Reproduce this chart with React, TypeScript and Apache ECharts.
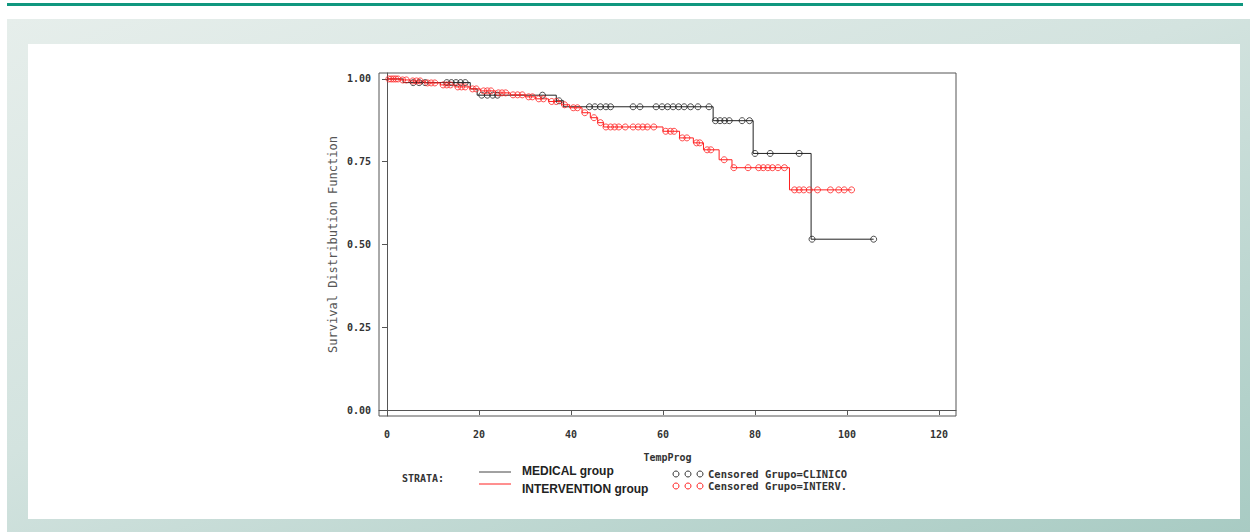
import React, { useEffect, useRef } from "react";
import * as echarts from "echarts";

// Axis tick values
const xTicks = [0, 20, 40, 60, 80, 100, 120];
const yTicks = [0, 0.25, 0.5, 0.75, 1];

// MEDICAL group (Grupo=CLINICO): event times and survival after each event
const medicalTimes = [0, 3.5, 18.1, 19.6, 36.8, 38.4, 70.9, 79.6, 92.2, 105.8];
const medicalSurv = [1, 0.989, 0.97, 0.951, 0.934, 0.916, 0.874, 0.775, 0.516, 0.516];
const medicalCensored = [
  5.7, 7, 8.3, 13, 14, 15, 16, 17, 20.6, 21.8, 23, 24, 33.8, 37.4, 44, 45.2, 46.4,
  47.6, 48.6, 53.5, 55, 58.5, 59.8, 61, 62.2, 63.4, 64.6, 66, 67.6, 70, 71.4, 72.4,
  73.4, 74.4, 77.2, 78.8, 80, 83.3, 89.6, 92.4, 105.8,
];

// INTERVENTION group (Grupo=INTERV.)
const interventionTimes = [
  0, 2.8, 5.0, 8.3, 11.6, 14.8, 18.1, 20.3, 23.6, 26.8, 30.1, 32.3, 35.1, 37.9, 39.7,
  42.4, 44.2, 45.8, 47.1, 60, 63.6, 66.6, 68.8, 72.2, 75, 87.5, 101,
];
const interventionSurv = [
  1, 0.997, 0.994, 0.988, 0.982, 0.976, 0.97, 0.964, 0.958, 0.952, 0.946, 0.94, 0.932,
  0.922, 0.913, 0.898, 0.883, 0.868, 0.855, 0.842, 0.822, 0.807, 0.786, 0.756, 0.732,
  0.665, 0.665,
];
const interventionCensored = [
  0.4, 0.9, 1.4, 1.9, 2.4, 3.4, 4.2, 5.6, 6.4, 7.2, 8.8, 9.6, 10.4, 12.2, 13, 13.8,
  15.4, 16.2, 17, 18.6, 19.4, 21, 21.8, 22.6, 24.2, 25, 25.8, 27.4, 28.4, 29.4, 30.8,
  31.6, 33, 34, 35.8, 36.8, 38.6, 40.5, 41.4, 43, 45, 46.4, 47.6, 48.6, 49.5, 50.4,
  51.8, 53.5, 54.6, 55.6, 56.6, 58, 60.6, 61.6, 62.4, 64.2, 65.2, 67.3, 68, 69.6, 70.4,
  73.3, 75.4, 78.5, 80.8, 81.8, 82.8, 83.8, 85, 86.4, 88.6, 89.6, 90.6, 91.8, 93.6,
  96.4, 98.2, 99.4, 101,
];

const BLACK = "#222222";
const RED = "#ff2020";
const MONO = "'DejaVu Sans Mono', 'Liberation Mono', monospace";

function survAt(times: number[], surv: number[], t: number): number {
  let v = surv[0];
  for (let i = 0; i < times.length; i++) {
    if (times[i] <= t) v = surv[i];
  }
  return v;
}

export default function App() {
  const ref = useRef<HTMLDivElement>(null);

  useEffect(() => {
    if (!ref.current) return;
    const chart = echarts.init(ref.current, null, { renderer: "svg" });

    const lineData = (times: number[], surv: number[]) =>
      times.map((t, i) => [t, surv[i]]);
    const censData = (c: number[], times: number[], surv: number[]) =>
      c.map((t) => [t, survAt(times, surv, t)]);

    const legendY1 = 474;
    const legendY2 = 486;

    chart.setOption({
      animation: false,
      grid: {
        left: 379,
        top: 73,
        width: 577,
        height: 343,
        show: true,
        borderColor: "#555",
        borderWidth: 1,
        backgroundColor: "transparent",
      },
      xAxis: {
        type: "value",
        min: -1.74,
        max: 123.7,
        splitLine: { show: false },
        axisLine: { show: true, lineStyle: { color: "#555", width: 1 } },
        axisTick: {
          show: true,
          customValues: xTicks,
          length: 5,
          lineStyle: { color: "#555" },
        },
        axisLabel: {
          customValues: xTicks,
          margin: 13,
          fontFamily: MONO,
          fontWeight: "bold",
          fontSize: 10,
          color: "#333",
          formatter: (v: number) => String(v),
        },
        name: "TempProg",
        nameLocation: "middle",
        nameGap: 36,
        nameTextStyle: {
          fontFamily: MONO,
          fontWeight: "bold",
          fontSize: 10,
          color: "#333",
        },
      },
      yAxis: {
        type: "value",
        min: -0.018,
        max: 1.018,
        splitLine: { show: false },
        axisLine: { show: true, lineStyle: { color: "#555", width: 1 } },
        axisTick: {
          show: true,
          customValues: yTicks,
          length: 5,
          lineStyle: { color: "#555" },
        },
        axisLabel: {
          customValues: yTicks,
          margin: 8,
          fontFamily: MONO,
          fontWeight: "bold",
          fontSize: 10,
          color: "#333",
          formatter: (v: number) => v.toFixed(2),
        },
        name: "Survival Distribution Function",
        nameLocation: "middle",
        nameGap: 40,
        nameTextStyle: {
          fontFamily: MONO,
          fontSize: 12,
          color: "#555",
        },
      },
      series: [
        {
          name: "MEDICAL group",
          type: "line",
          step: "end",
          data: lineData(medicalTimes, medicalSurv),
          symbol: "none",
          lineStyle: { color: BLACK, width: 1 },
          z: 3,
        },
        {
          name: "INTERVENTION group",
          type: "line",
          step: "end",
          data: lineData(interventionTimes, interventionSurv),
          symbol: "none",
          lineStyle: { color: RED, width: 1 },
          z: 4,
        },
        {
          name: "Censored Grupo=CLINICO",
          type: "scatter",
          data: censData(medicalCensored, medicalTimes, medicalSurv),
          symbol: "circle",
          symbolSize: 6,
          itemStyle: { color: "rgba(0,0,0,0)", borderColor: BLACK, borderWidth: 1 },
          z: 5,
        },
        {
          name: "Censored Grupo=INTERV.",
          type: "scatter",
          data: censData(interventionCensored, interventionTimes, interventionSurv),
          symbol: "circle",
          symbolSize: 6,
          itemStyle: { color: "rgba(0,0,0,0)", borderColor: RED, borderWidth: 1 },
          z: 6,
        },
      ],
      graphic: {
        elements: [
          {
            type: "text",
            x: 402,
            y: 478,
            style: {
              text: "STRATA:",
              fontFamily: MONO,
              fontWeight: "bold",
              fontSize: 10,
              fill: "#333",
              textAlign: "left",
              textVerticalAlign: "middle",
            },
          },
          {
            type: "line",
            shape: { x1: 479, y1: 472, x2: 511, y2: 472 },
            style: { stroke: "#444", lineWidth: 1 },
          },
          {
            type: "line",
            shape: { x1: 479, y1: 484, x2: 511, y2: 484 },
            style: { stroke: RED, lineWidth: 1 },
          },
          {
            type: "text",
            x: 522,
            y: 471,
            style: {
              text: "MEDICAL group",
              fontFamily: "'Liberation Sans', Arial, sans-serif",
              fontWeight: "bold",
              fontSize: 12,
              fill: "#222",
              textAlign: "left",
              textVerticalAlign: "middle",
            },
          },
          {
            type: "text",
            x: 522,
            y: 489,
            style: {
              text: "INTERVENTION group",
              fontFamily: "'Liberation Sans', Arial, sans-serif",
              fontWeight: "bold",
              fontSize: 12,
              fill: "#222",
              textAlign: "left",
              textVerticalAlign: "middle",
            },
          },
          ...[676, 688, 700].map((cx) => ({
            type: "circle",
            shape: { cx, cy: legendY1, r: 3 },
            style: { fill: "none", stroke: "#333", lineWidth: 1 },
          })),
          ...[676, 688, 700].map((cx) => ({
            type: "circle",
            shape: { cx, cy: legendY2, r: 3 },
            style: { fill: "none", stroke: RED, lineWidth: 1 },
          })),
          {
            type: "text",
            x: 708,
            y: legendY1,
            style: {
              text: "Censored Grupo=CLINICO",
              fontFamily: MONO,
              fontWeight: "bold",
              fontSize: 10.5,
              fill: "#333",
              textAlign: "left",
              textVerticalAlign: "middle",
            },
          },
          {
            type: "text",
            x: 708,
            y: legendY2,
            style: {
              text: "Censored Grupo=INTERV.",
              fontFamily: MONO,
              fontWeight: "bold",
              fontSize: 10.5,
              fill: "#333",
              textAlign: "left",
              textVerticalAlign: "middle",
            },
          },
        ],
      },
    });

    return () => {
      chart.dispose();
    };
  }, []);

  return (
    <div
      style={{
        position: "fixed",
        left: 0,
        top: 0,
        width: 1250,
        height: 532,
        background: "#ffffff",
        overflow: "hidden",
      }}
    >
      <div
        style={{
          position: "absolute",
          left: 7,
          top: 3,
          width: 1236,
          height: 3,
          background: "#10977f",
        }}
      />
      <div
        style={{
          position: "absolute",
          left: 7,
          top: 19,
          width: 1243,
          height: 513,
          background: "linear-gradient(160deg, #e6eeeb 0%, #d3e3df 45%, #a8cbc3 100%)",
        }}
      />
      <div
        style={{
          position: "absolute",
          left: 28,
          top: 44,
          width: 1212,
          height: 475,
          background: "#ffffff",
        }}
      />
      <div
        ref={ref}
        style={{ position: "absolute", left: 0, top: 0, width: 1250, height: 532 }}
      />
    </div>
  );
}
